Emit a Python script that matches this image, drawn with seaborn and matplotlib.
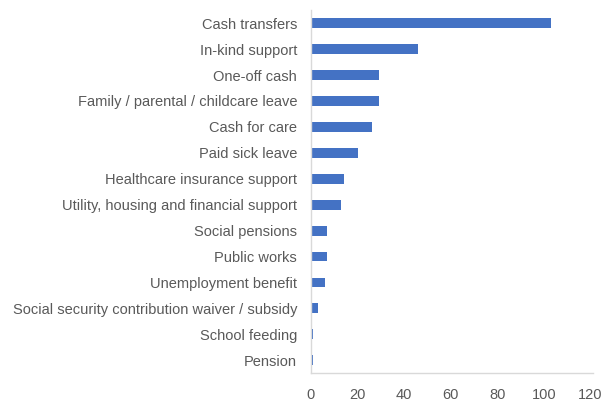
import matplotlib
matplotlib.use("Agg")
import matplotlib.pyplot as plt
import seaborn as sns
import pandas as pd

categories = [
    "Cash transfers",
    "In-kind support",
    "One-off cash",
    "Family / parental / childcare leave",
    "Cash for care",
    "Paid sick leave",
    "Healthcare insurance support",
    "Utility, housing and financial support",
    "Social pensions",
    "Public works",
    "Unemployment benefit",
    "Social security contribution waiver / subsidy",
    "School feeding",
    "Pension",
]
counts = [103, 46, 29, 29, 26, 20, 14, 13, 7, 7, 6, 3, 1, 1]
x_ticks = [0, 20, 40, 60, 80, 100, 120]

df = pd.DataFrame({"programme": categories, "count": counts})

sns.set_theme(style="white")
plt.rcParams["font.family"] = ["Liberation Sans", "DejaVu Sans"]

fig = plt.figure(figsize=(6.08, 4.07), dpi=100)
ax = fig.add_axes([0.5115, 0.083, 0.4635, 0.892])

sns.barplot(data=df, x="count", y="programme", color="#4472C4",
            saturation=1, width=0.38, linewidth=0, ax=ax, orient="h")

text_color = "#595959"
ax.set_xlim(0, 121)
ax.set_ylim(13.5, -0.5)
ax.set_xticks(x_ticks)
ax.set_xticklabels([str(t) for t in x_ticks])
ax.set_xlabel("")
ax.set_ylabel("")
ax.tick_params(axis="both", length=0, colors=text_color, labelsize=10.5)
ax.tick_params(axis="y", pad=10)
ax.tick_params(axis="x", pad=11)

for side in ["top", "right"]:
    ax.spines[side].set_visible(False)
for side in ["left", "bottom"]:
    ax.spines[side].set_color("#D9D9D9")
    ax.spines[side].set_linewidth(1.0)

fig.savefig("out.png", dpi=100)
